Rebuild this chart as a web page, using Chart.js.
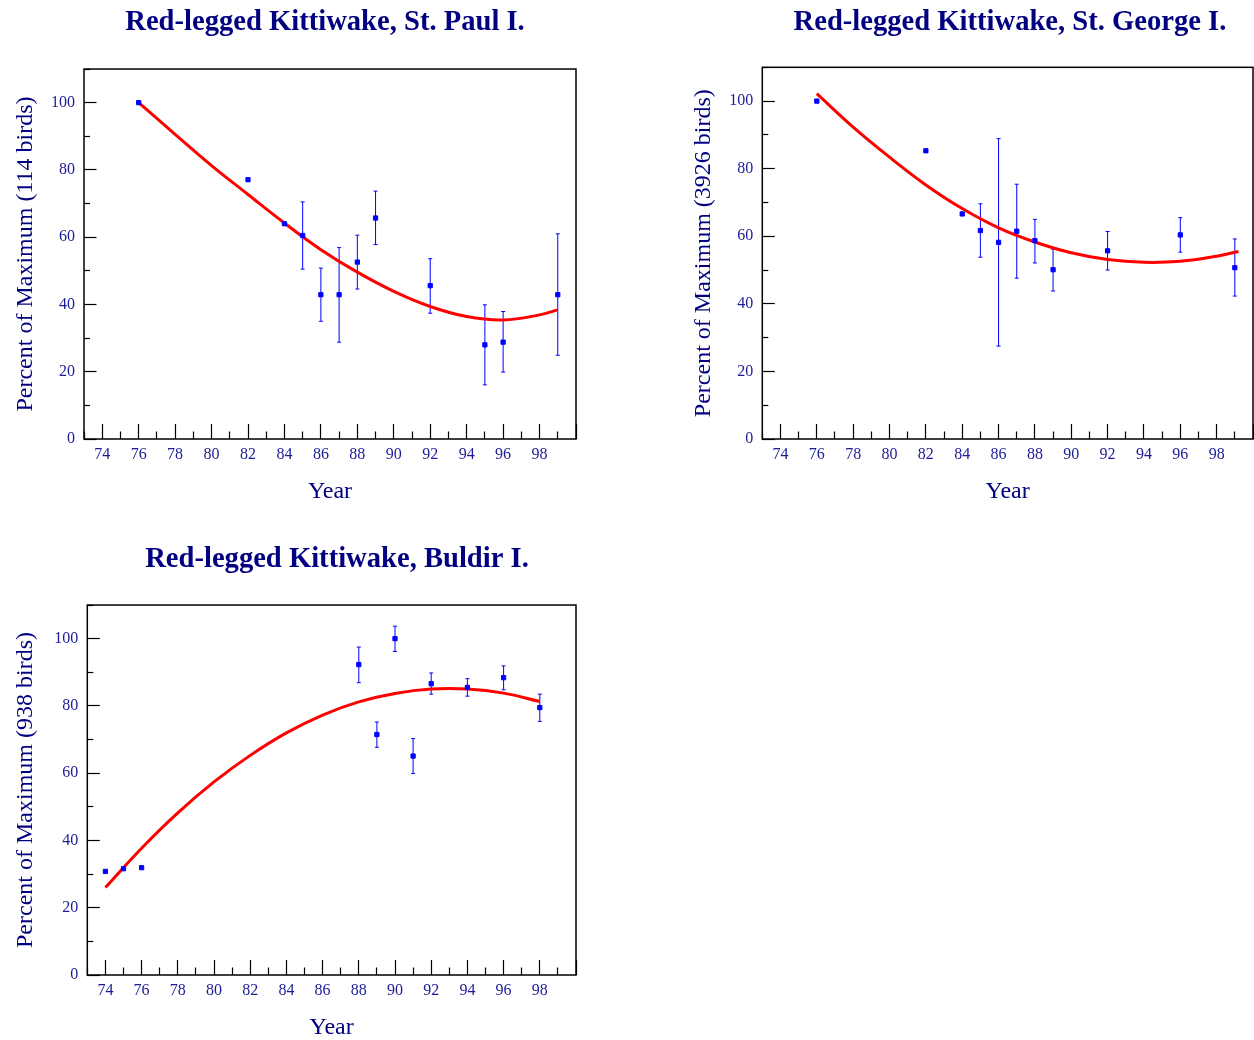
<!DOCTYPE html>
<html><head><meta charset="utf-8">
<script src="https://cdn.jsdelivr.net/npm/chart.js@4.4.1/dist/chart.umd.min.js"></script>
<style>
html,body{margin:0;padding:0;background:#fff;overflow:hidden;width:1254px;height:1040px;position:relative;}
canvas{position:absolute;}
</style></head><body>
<canvas id="c1" width="650" height="520" style="left:0px;top:0px;width:650px;height:520px"></canvas>
<canvas id="c2" width="664" height="520" style="left:678px;top:0px;width:664px;height:520px"></canvas>
<canvas id="c3" width="668" height="530" style="left:3px;top:520px;width:668px;height:530px"></canvas>
<script>
// ---- St. Paul I. ----
const paulTitle = 'Red-legged Kittiwake, St. Paul I.';
const paulYLabel = 'Percent of Maximum (114 birds)';
const paulYears = [76, 82, 84, 85, 86, 87, 88, 89, 92, 95, 96, 99];
const paulPct   = [100, 77.1, 64.0, 60.5, 42.9, 42.9, 52.6, 65.7, 45.6, 28.0, 28.8, 42.9];
const paulLow   = [null, null, null, 50.5, 35.0, 28.8, 44.6, 57.8, 37.4, 16.1, 19.9, 24.9];
const paulHigh  = [null, null, null, 70.5, 50.8, 56.9, 60.6, 73.7, 53.6, 39.9, 37.9, 61.0];
const paulFitYears = [76, 78, 80, 82, 84, 86, 88, 90, 92, 94, 96, 98, 99];
const paulFit      = [100, 90.6, 81.3, 72.7, 64.2, 56.3, 49.6, 43.9, 39.4, 36.4, 35.4, 36.9, 38.4];

// ---- St. George I. ----
const georgeTitle = 'Red-legged Kittiwake, St. George I.';
const georgeYLabel = 'Percent of Maximum (3926 birds)';
const georgeYears = [76, 82, 84, 85, 86, 87, 88, 89, 92, 96, 99];
const georgePct   = [100, 85.3, 66.6, 61.7, 58.2, 61.5, 58.7, 50.1, 55.7, 60.4, 50.7];
const georgeLow   = [null, null, null, 53.8, 27.5, 47.6, 52.1, 43.8, 50.0, 55.3, 42.3];
const georgeHigh  = [null, null, null, 69.6, 88.9, 75.4, 65.0, 56.2, 61.4, 65.5, 59.2];
const georgeFitYears = [76, 78, 80, 82, 84, 86, 88, 90, 92, 94, 96, 98, 99.2];
const georgeFit      = [102.2, 92.3, 83.4, 75.2, 68.2, 62.5, 58.3, 55.1, 53.1, 52.3, 52.6, 54.1, 55.5];

// ---- Buldir I. ----
const buldirTitle = 'Red-legged Kittiwake, Buldir I.';
const buldirYLabel = 'Percent of Maximum (938 birds)';
const buldirYears = [74, 75, 76, 88, 89, 90, 91, 92, 94, 96, 98];
const buldirPct   = [30.8, 31.6, 31.9, 92.3, 71.5, 100, 65.1, 86.6, 85.5, 88.4, 79.5];
const buldirLow   = [null, null, null, 86.9, 67.7, 96.2, 59.9, 83.5, 82.9, 84.8, 75.4];
const buldirHigh  = [null, null, null, 97.5, 75.2, 103.7, 70.3, 89.8, 88.1, 91.9, 83.5];
const buldirFitYears = [74, 76, 78, 80, 82, 84, 86, 88, 90, 92, 94, 96, 98];
const buldirFit      = [26.0, 37.7, 48.2, 57.4, 65.3, 72.0, 77.3, 81.2, 83.7, 85.0, 85.0, 83.8, 81.3];

// axis tick labels
const xTickLabels = [74, 76, 78, 80, 82, 84, 86, 88, 90, 92, 94, 96, 98];
const yTickLabels = [0, 20, 40, 60, 80, 100];
const xAxisTitle = 'Year';

const SERIF = "'Liberation Serif', 'Times New Roman', Times, serif";
const NAVY = '#000080';
const TICKCOL = '#1c1c96';

const framePlugin = {
  id: 'frame',
  afterDatasetsDraw(chart) {
    const {ctx, chartArea: a} = chart;
    ctx.save();
    ctx.strokeStyle = '#000';
    ctx.lineWidth = 1.5;
    ctx.strokeRect(a.left, a.top, a.right - a.left, a.bottom - a.top);
    ctx.restore();
  }
};

function makeChart(id, d, L) {
  const pts = d.years.map((x, i) => ({x, y: d.pct[i]}));
  const err = [];
  d.years.forEach((x, i) => {
    if (d.low[i] !== null) {
      err.push({x, y: d.low[i]}, {x, y: d.high[i]}, {x, y: null});
    }
  });
  const fit = d.fitYears.map((x, i) => ({x, y: d.fit[i]}));
  return new Chart(document.getElementById(id), {
    type: 'line',
    data: {
      datasets: [
        { data: pts, showLine: false, pointStyle: 'rect', pointRadius: 3,
          pointBackgroundColor: '#0000ff', pointBorderColor: '#0000ff', pointBorderWidth: 1 },
        { data: fit, borderColor: '#ff0000', borderWidth: 3, pointRadius: 0,
          tension: 0.4, fill: false },
        { data: err, borderColor: '#0000ff', borderWidth: 1, spanGaps: false,
          pointStyle: 'line', pointRadius: 2, pointBorderColor: '#0000ff', pointBorderWidth: 1 }
      ]
    },
    options: {
      responsive: false, animation: false, devicePixelRatio: 1,
      layout: { padding: 0 },
      plugins: {
        legend: { display: false }, tooltip: { enabled: false },
        title: { display: true, text: d.title, fullSize: true, color: NAVY,
          font: { family: SERIF, size: 28.6, weight: 'bold' },
          padding: { top: L.titleTop, bottom: L.titleBottom } }
      },
      scales: {
        x: {
          type: 'linear', min: 73, max: 100,
          afterFit: s => { s.height = L.xH; },
          ticks: { stepSize: 1, autoSkip: false, maxRotation: 0, minRotation: 0, padding: 21.4,
            color: TICKCOL, font: { family: SERIF, size: 16 },
            callback: v => xTickLabels.includes(v) ? String(v) : '' },
          grid: { drawOnChartArea: false, drawTicks: true, tickLength: -15, tickColor: '#000', tickWidth: 1.2,
            tickBorderDash: c => (c.tick && c.tick.value % 2 !== 0) ? [7.5, 100] : [] },
          border: { display: false },
          title: { display: true, text: xAxisTitle, color: NAVY, font: { family: SERIF, size: 24 },
            padding: { top: 0, bottom: L.xTitleBottom } }
        },
        y: {
          min: 0, max: 110,
          afterFit: s => { s.width = L.yW; },
          ticks: { stepSize: 10, autoSkip: false, padding: 21.5, color: TICKCOL,
            font: { family: SERIF, size: 16 },
            callback: v => yTickLabels.includes(v) ? String(v) : '' },
          grid: { drawOnChartArea: false, drawTicks: true, tickLength: -12.5, tickColor: '#000', tickWidth: 1.2,
            tickBorderDash: c => (c.tick && c.tick.value % 20 !== 0) ? [6.5, 6.5] : [],
            tickBorderDashOffset: c => (c.tick && c.tick.value % 20 !== 0) ? 6.5 : 0 },
          border: { display: false },
          title: { display: true, text: d.yLabel, color: NAVY, font: { family: SERIF, size: 24 },
            padding: { top: L.yTitleTop, bottom: 0 } }
        },
        // empty right-hand spacer axis: reserves the margin right of the plot
        ySpacer: {
          position: 'right', display: true, min: 0, max: 110,
          afterFit: s => { s.width = L.rightW; },
          ticks: { display: false }, grid: { display: false }, border: { display: false },
          title: { display: false }
        }
      }
    },
    plugins: [framePlugin]
  });
}

makeChart('c1', { title: paulTitle, yLabel: paulYLabel, years: paulYears, pct: paulPct, low: paulLow, high: paulHigh,
  fitYears: paulFitYears, fit: paulFit },
  { rightW: 74, titleTop: 5, titleBottom: 29.7, xH: 81, yW: 84, yTitleTop: 11, xTitleBottom: 13.6 });

makeChart('c2', { title: georgeTitle, yLabel: georgeYLabel, years: georgeYears, pct: georgePct, low: georgeLow, high: georgeHigh,
  fitYears: georgeFitYears, fit: georgeFit },
  { rightW: 89, titleTop: 5.3, titleBottom: 27.7, xH: 81, yW: 84.3, yTitleTop: 11, xTitleBottom: 13.6 });

makeChart('c3', { title: buldirTitle, yLabel: buldirYLabel, years: buldirYears, pct: buldirPct, low: buldirLow, high: buldirHigh,
  fitYears: buldirFitYears, fit: buldirFit },
  { rightW: 95, titleTop: 22.4, titleBottom: 28.3, xH: 75, yW: 84.3, yTitleTop: 8, xTitleBottom: 7.6 });
</script>
</body></html>
